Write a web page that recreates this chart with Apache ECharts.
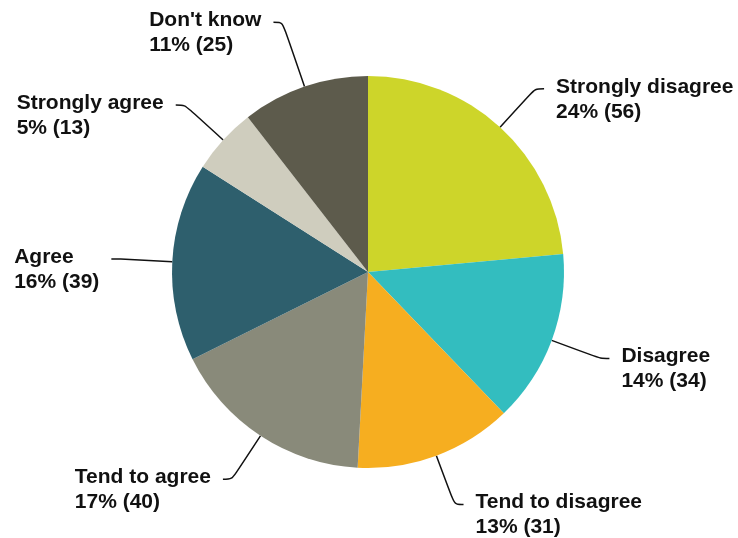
<!DOCTYPE html>
<html><head><meta charset="utf-8">
<script src="https://cdn.jsdelivr.net/npm/echarts@6/dist/echarts.min.js"></script>
<style>html,body{margin:0;padding:0;background:#fff}#c{width:738px;height:538px}</style>
</head><body><div id="c"></div>
<script>
const categories = ["Strongly disagree","Disagree","Tend to disagree","Tend to agree","Agree","Strongly agree","Don't know"];
const values = [56,34,31,40,39,13,25];
const colors = ["#CDD52A","#33BDBF","#F6AE20","#898A7A","#2E5F6D","#CFCDBE","#5D5B4C"];

const chart = echarts.init(document.getElementById('c'), null, {renderer:'canvas'});
chart.setOption({
  animation:false,
  backgroundColor:'#fff',
  series:[{
    type:'pie',
    center:[368,272],
    radius:[0,196],
    startAngle:90,
    clockwise:true,
    avoidLabelOverlap:false,
    data:categories.map((n,i)=>({
      name:n,value:values[i],itemStyle:{color:colors[i]},
      labelLine: i===6 ? {length:68} : undefined
    })),
    itemStyle:{borderWidth:0},
    label:{
      show:true,
      position:'outside',
      distanceToLabelLine:12,
      padding:[21,0,0,0],
      formatter:p=>`{a|${p.name}}\n{a|${Math.round(p.percent)}% (${p.value})}`,
      rich:{a:{fontFamily:'Liberation Sans, Arial, sans-serif',fontWeight:'bold',fontSize:21,color:'#111',lineHeight:25,align:'left'}}
    },
    labelLine:{show:true,length:52,length2:9,smooth:0.3,lineStyle:{color:'#111',width:1.5}},
    emphasis:{disabled:true}
  }]
});
</script></body></html>
